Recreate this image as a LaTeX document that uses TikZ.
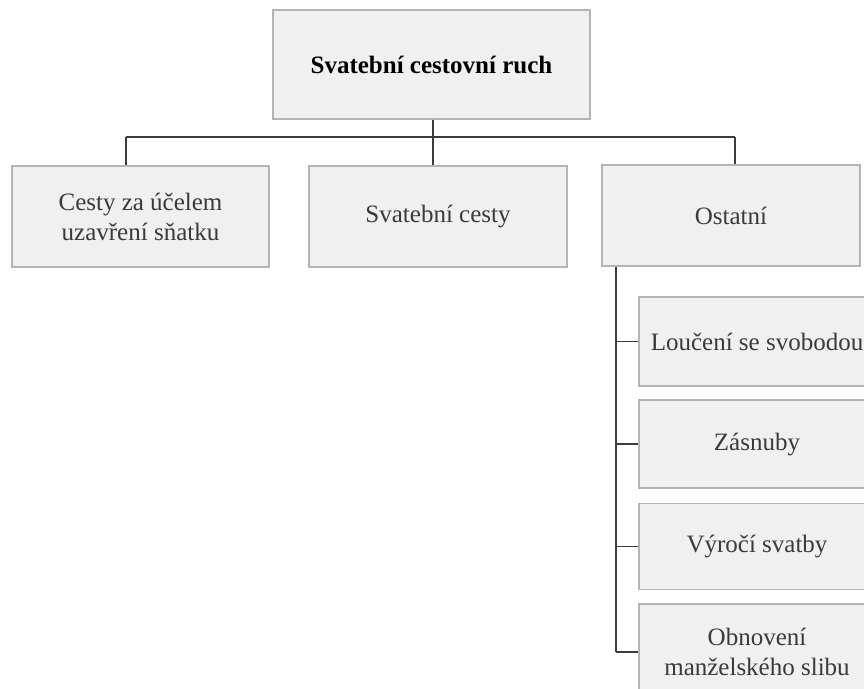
\documentclass[tikz,border=0pt]{standalone}
\usepackage{fontspec}
\setmainfont{Liberation Serif}
\definecolor{boxfill}{HTML}{F0F0F0}
\definecolor{boxline}{HTML}{B4B4B4}
\definecolor{conncol}{HTML}{3C3C3C}
\definecolor{txtcol}{HTML}{3A3A3A}
\tikzset{
  box/.style={draw=boxline, fill=boxfill, line width=1.2pt, align=center, inner sep=0pt,
    font=\fontsize{25}{30}\selectfont, text=txtcol},
  conn/.style={draw=conncol, line width=1.3pt}
}
\begin{document}
\begin{tikzpicture}[x=1pt,y=-1pt]
\useasboundingbox (0,0) rectangle (864,688);
\node[box, minimum width=317pt, minimum height=109pt, font=\fontsize{25}{30}\selectfont\bfseries, text=black] (top) at (431.5,64.5) {Svatební cestovní ruch};
\node[box, minimum width=257pt, minimum height=101pt] (A) at (140.5,216.5) {Cesty za účelem\\uzavření sňatku};
\node[box, minimum width=258pt, minimum height=101pt] (B) at (438,216.5) {Svatební cesty};
\node[box, minimum width=258pt, minimum height=101pt] (C) at (731,215.5) {Ostatní};
\node[box, minimum width=236pt, minimum height=89pt] (d1) at (757,341.5) {Loučení se svobodou};
\node[box, minimum width=236pt, minimum height=88pt] (d2) at (757,444) {Zásnuby};
\node[box, minimum width=236pt, minimum height=86pt] (d3) at (757,546.5) {Výročí svatby};
\node[box, minimum width=236pt, minimum height=96pt] (d4) at (757,652) {Obnovení\\manželského slibu};
% connectors
\coordinate (bus) at (433,137);
\coordinate (jA) at (126,137);
\coordinate (jB) at (433,137);
\coordinate (jC) at (735,137);
\coordinate (trunk) at (616,300);
\draw[conn] (top.south -| bus) -- (bus);
\draw[conn] (jA) -- (jC);
\draw[conn] (jA) -- (jA |- A.north);
\draw[conn] (jB) -- (jB |- B.north);
\draw[conn] (jC) -- (jC |- C.north);
\draw[conn] (C.south -| trunk) -- (trunk |- d4.west);
\foreach \n in {d1,d2,d3,d4}{
  \draw[conn] (trunk |- \n.west) -- (\n.west);
}
\end{tikzpicture}
\end{document}
